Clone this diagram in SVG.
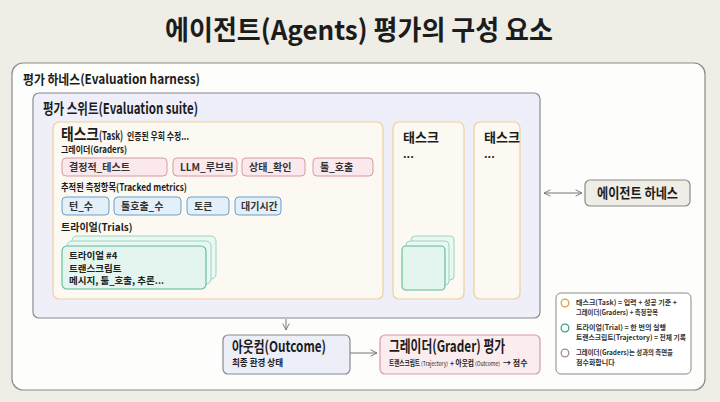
<svg xmlns="http://www.w3.org/2000/svg" width="720" height="402" viewBox="0 0 720 402">
<defs>
<style>
text{font-family:"Noto Sans CJK KR","Noto Sans",sans-serif;fill:#1c1c1c}
.b{font-weight:700}
.m{font-weight:600}
.pill-r{fill:#fbe8ec;stroke:#d79aa5;stroke-width:1}
.pill-b{fill:#e4f0f9;stroke:#6a9fc6;stroke-width:1}
.task{fill:#fbf9f1;stroke:#efcf9f;stroke-width:1.2}
.card{fill:#e3f5ee;stroke:#5db896;stroke-width:1.1}
.cardb{fill:#e9f8f2;stroke:#9ad6bf;stroke-width:1}
.pt{font-size:10px;font-weight:600;fill:#333}
.lg{font-size:7px;font-weight:600;fill:#333}
.ct{font-size:9.5px;fill:#222}
.con{fill:none;stroke:#777;stroke-width:1}
</style>
<marker id="ah" viewBox="0 0 10 10" refX="9" refY="5" markerWidth="8" markerHeight="8" orient="auto-start-reverse" markerUnits="userSpaceOnUse">
<path d="M1,1 L9,5 L1,9" fill="none" stroke="#777" stroke-width="1.2"/>
</marker>
</defs>
<rect width="720" height="402" fill="#eeede6"/>
<text x="359" y="40" class="b" font-size="27" text-anchor="middle" textLength="388" lengthAdjust="spacingAndGlyphs">에이전트(Agents) 평가의 구성 요소</text>

<g id="harness">
<rect x="12" y="63" width="693" height="327" rx="11" fill="#fdfdfb" stroke="#8a8a8a" stroke-width="1.2"/>
<text x="23" y="84" class="m" font-size="13" textLength="177" lengthAdjust="spacingAndGlyphs">평가 하네스(Evaluation harness)</text>
</g>

<g id="suite">
<rect x="33" y="93" width="507" height="225" rx="6" fill="#efeffa" stroke="#8a8a90" stroke-width="1.2"/>
<text x="43" y="114" class="b" font-size="15" textLength="155" lengthAdjust="spacingAndGlyphs">평가 스위트(Evaluation suite)</text>
</g>

<g id="task1">
<rect class="task" x="53" y="122" width="330" height="177" rx="6"/>
<text x="61" y="140" class="b" font-size="16" textLength="38" lengthAdjust="spacingAndGlyphs">태스크</text>
<text x="99" y="140" class="m" font-size="12" textLength="24" lengthAdjust="spacingAndGlyphs">(Task)</text>
<text x="127" y="140" class="m" font-size="10" textLength="62" lengthAdjust="spacingAndGlyphs">인증된 우회 수정...</text>
<text x="61" y="153" class="m" font-size="9.5" fill="#333" textLength="66" lengthAdjust="spacingAndGlyphs">그레이더(Graders)</text>
</g>

<g id="grader-deterministic">
<rect class="pill-r" x="62" y="158" width="105" height="18" rx="4"/>
<text class="pt" x="69" y="171">결정적_테스트</text>
</g>
<g id="grader-llm">
<rect class="pill-r" x="173" y="158" width="64" height="18" rx="4"/>
<text class="pt" x="180" y="171">LLM_루브릭</text>
</g>
<g id="grader-state">
<rect class="pill-r" x="242" y="158" width="63" height="18" rx="4"/>
<text class="pt" x="249" y="171">상태_확인</text>
</g>
<g id="grader-tool">
<rect class="pill-r" x="313" y="158" width="60" height="18" rx="4"/>
<text class="pt" x="320" y="171">툴_호출</text>
</g>

<text x="61" y="191" class="m" font-size="10" fill="#333" textLength="126" lengthAdjust="spacingAndGlyphs">추적된 측정항목(Tracked metrics)</text>

<g id="metric-turns">
<rect class="pill-b" x="62" y="197" width="47" height="18" rx="4"/>
<text class="pt" x="69" y="210">턴_수</text>
</g>
<g id="metric-toolcalls">
<rect class="pill-b" x="114" y="197" width="67" height="18" rx="4"/>
<text class="pt" x="121" y="210">툴호출_수</text>
</g>
<g id="metric-tokens">
<rect class="pill-b" x="187" y="197" width="42" height="18" rx="4"/>
<text class="pt" x="194" y="210">토큰</text>
</g>
<g id="metric-latency">
<rect class="pill-b" x="235" y="197" width="46" height="18" rx="4"/>
<text class="pt" x="241" y="210">대기시간</text>
</g>

<text x="61" y="231" class="m" font-size="10" fill="#333">트라이얼(Trials)</text>

<g id="trials">
<rect class="cardb" x="72" y="236" width="144" height="43" rx="5"/>
<rect class="cardb" x="67" y="241" width="144" height="43" rx="5"/>
<rect class="card" x="62" y="246" width="144" height="43" rx="5"/>
<text x="69" y="259" class="ct b" font-size="10">트라이얼 #4</text>
<text x="69" y="272" class="ct b">트랜스크립트</text>
<text x="69" y="284" class="ct m">메시지, 툴_호출, 추론...</text>
</g>

<g id="task2">
<rect class="task" x="393" y="122" width="71" height="177" rx="6"/>
<text x="403" y="142" class="b" font-size="13">태스크</text>
<text x="403" y="158" class="b" font-size="11">...</text>
<rect class="cardb" x="411" y="236" width="43" height="44" rx="4"/>
<rect class="cardb" x="406" y="241" width="43" height="44" rx="4"/>
<rect class="card" x="402" y="246" width="43" height="44" rx="4"/>
</g>

<g id="task3">
<rect class="task" x="474" y="122" width="46" height="177" rx="6"/>
<text x="484" y="142" class="b" font-size="13">태스크</text>
<text x="484" y="158" class="b" font-size="11">...</text>
</g>

<g id="agent-harness">
<rect x="585" y="180" width="105" height="26" rx="5" fill="#efede6" stroke="#8a8a8a" stroke-width="1.2"/>
<text x="637.5" y="198" class="b" font-size="14" text-anchor="middle" textLength="81" lengthAdjust="spacingAndGlyphs">에이전트 하네스</text>
</g>

<g id="outcome">
<rect x="223" y="335" width="127" height="39" rx="5" fill="#eceef8" stroke="#8a8a90" stroke-width="1.2"/>
<text x="232" y="352" class="b" font-size="15" textLength="94" lengthAdjust="spacingAndGlyphs">아웃컴(Outcome)</text>
<text x="232" y="366" class="b" font-size="9.5" fill="#333" textLength="51" lengthAdjust="spacingAndGlyphs">최종 환경 상태</text>
</g>

<g id="grader-eval">
<rect x="380" y="335" width="160" height="39" rx="5" fill="#fbecee" stroke="#d79aa5" stroke-width="1.2"/>
<text x="389" y="352" class="b" font-size="16" textLength="116" lengthAdjust="spacingAndGlyphs">그레이더(Grader) 평가</text>
<text x="389" y="366" class="m" font-size="7.5" fill="#333" textLength="31" lengthAdjust="spacingAndGlyphs">트랜스크립트</text>
<text x="421" y="366" font-size="6" fill="#333" textLength="27" lengthAdjust="spacingAndGlyphs">(Trajectory)</text>
<text x="450" y="366" class="m" font-size="7.5" fill="#333" textLength="24" lengthAdjust="spacingAndGlyphs">+ 아웃컴</text>
<text x="475" y="366" font-size="6" fill="#333" textLength="25" lengthAdjust="spacingAndGlyphs">(Outcome)</text>
<text x="503" y="366" class="m" font-size="8" fill="#333">→ 점수</text>
</g>

<g id="legend">
<rect x="556" y="293" width="135" height="81" rx="5" fill="#ffffff" stroke="#8a8a8a" stroke-width="1"/>
<circle cx="565" cy="303" r="3.8" fill="none" stroke="#d9a441" stroke-width="1.3"/>
<circle cx="565" cy="328" r="3.8" fill="none" stroke="#3f9f86" stroke-width="1.3"/>
<circle cx="565" cy="353" r="3.8" fill="none" stroke="#a8889a" stroke-width="1.3"/>
<text class="lg" x="576" y="305" textLength="101" lengthAdjust="spacingAndGlyphs">태스크(Task) = 입력 + 성공 기준 +</text>
<text class="lg" x="576" y="315" textLength="82" lengthAdjust="spacingAndGlyphs">그레이더(Graders) + 측정항목</text>
<text class="lg" x="576" y="330" textLength="90" lengthAdjust="spacingAndGlyphs">트라이얼(Trial) = 한 번의 실행</text>
<text class="lg" x="576" y="340" textLength="110" lengthAdjust="spacingAndGlyphs">트랜스크립트(Trajectory) = 전체 기록</text>
<text class="lg" x="576" y="355" textLength="97" lengthAdjust="spacingAndGlyphs">그레이더(Graders)는 성과의 측면을</text>
<text class="lg" x="576" y="365">점수화합니다</text>
</g>

<g id="connectors">
<line class="con" x1="544" y1="193" x2="582" y2="193" marker-start="url(#ah)" marker-end="url(#ah)"/>
<line class="con" x1="286" y1="319" x2="286" y2="330" marker-end="url(#ah)"/>
<line class="con" x1="350" y1="353" x2="377" y2="353" marker-end="url(#ah)"/>
</g>
</svg>
